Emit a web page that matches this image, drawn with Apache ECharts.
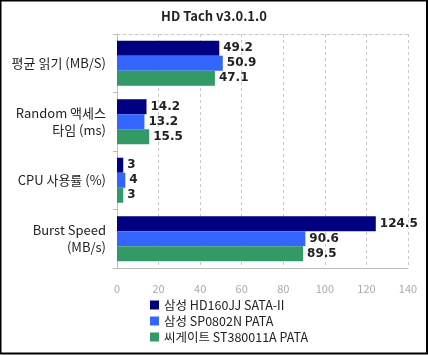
<!DOCTYPE html>
<html><head><meta charset="utf-8">
<script src="https://cdn.jsdelivr.net/npm/echarts@6/dist/echarts.min.js"></script>
<style>html,body{margin:0;padding:0;background:#fff}#c{width:428px;height:355px}</style>
</head><body><div id="c"></div>
<script>
const categories = ['평균 읽기 (MB/S)', 'Random 액세스\n타임 (ms)', 'CPU 사용률 (%)', 'Burst Speed\n(MB/s)'];
const seriesNames = ['삼성 HD160JJ SATA-II', '삼성 SP0802N PATA', '씨게이트 ST380011A PATA'];
const hd160jj = [49.2, 14.2, 3, 124.5];
const sp0802n = [50.9, 13.2, 4, 90.6];
const st380011a = [47.1, 15.5, 3, 89.5];
const xTicks = [0, 20, 40, 60, 80, 100, 120, 140];
const colors = ['#000080', '#3366FF', '#339966'];
const values = [hd160jj, sp0802n, st380011a];
const font = '"Noto Sans CJK KR", "DejaVu Sans", sans-serif';

const chart = echarts.init(document.getElementById('c'), null, {renderer: 'canvas'});
chart.setOption({
  animation: false,
  title: {text: 'HD Tach v3.0.1.0', left: 'center', top: 5,
    textStyle: {fontSize: 13, fontWeight: 'bold', color: '#222', fontFamily: font}},
  grid: {left: 117, right: 20, top: 34, bottom: 87, containLabel: false},
  graphic: [{type: 'rect', shape: {x: 0.5, y: 0.5, width: 426.5, height: 353}, style: {fill: 'none', stroke: '#000', lineWidth: 2}, silent: true}],
  legend: {orient: 'vertical', left: 150, top: 298, height: 56, padding: 0, itemWidth: 9, itemHeight: 9, itemGap: 2, icon: 'rect',
    textStyle: {fontSize: 12.5, lineHeight: 14, color: '#222', fontFamily: font}, data: seriesNames},
  xAxis: [{type: 'value', min: xTicks[0], max: xTicks[xTicks.length - 1], interval: 20,
    axisLine: {show: true, lineStyle: {color: '#bbb'}}, axisTick: {show: false},
    axisLabel: {color: '#aaa', fontSize: 11, fontFamily: font, margin: 15},
    splitLine: {show: true, lineStyle: {color: '#c8c8c8', type: [3, 3]}}},
    {type: 'value', position: 'top', min: xTicks[0], max: xTicks[xTicks.length - 1], interval: 20,
    axisLine: {show: true, lineStyle: {color: '#c8c8c8', type: [3, 3]}}, axisTick: {show: false},
    axisLabel: {show: false}, splitLine: {show: false}}],
  yAxis: {type: 'category', data: categories, inverse: true,
    axisLine: {show: true, lineStyle: {color: '#bbb'}},
    axisTick: {show: true, length: 4, lineStyle: {color: '#bbb'}},
    axisLabel: {color: '#222', fontSize: 13, fontFamily: font, margin: 11, lineHeight: 17, align: 'right'},
    splitLine: {show: false}},
  series: seriesNames.map((n, i) => ({
    name: n, type: 'bar', data: values[i], barGap: '0%', barCategoryGap: '23%',
    itemStyle: {color: colors[i]},
    label: {show: true, position: 'right', distance: 4, color: '#222', fontWeight: 'bold', fontSize: 12, fontFamily: '"DejaVu Sans", sans-serif'}
  }))
});
</script></body></html>
